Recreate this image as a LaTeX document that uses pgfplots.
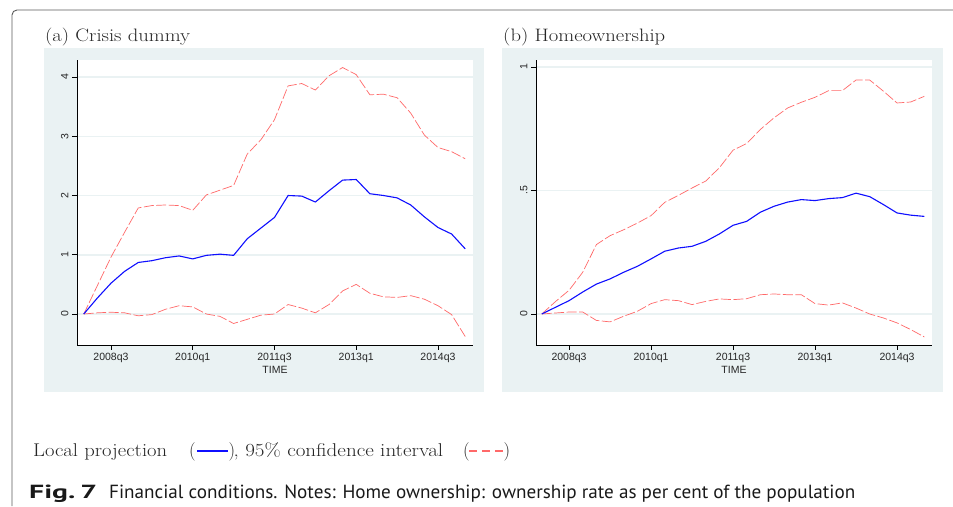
\documentclass[border=0pt]{standalone}
\usepackage{pgfplots}
\pgfplotsset{compat=1.18}
\usepackage{pgfplotstable}
\usepackage{fontspec}
\usepackage{graphicx}
\newfontfamily\arial{Liberation Sans}
\newfontfamily\ptsans{PT Sans}
\definecolor{bg}{RGB}{234,242,243}
\definecolor{lpblue}{RGB}{15,15,255}
\definecolor{cired}{RGB}{255,105,105}
\definecolor{frame}{RGB}{90,90,90}

% i = quarter index (0 = 2008q1), b = local projection, u = upper CI, l = lower CI
\pgfplotstableread{
i b u l
0 0 0 0
1 0.27 0.48 0.02
2 0.52 0.96 0.03
3 0.72 1.38 0.02
4 0.87 1.79 -0.03
5 0.90 1.83 -0.01
6 0.95 1.84 0.08
7 0.98 1.83 0.14
8 0.93 1.75 0.12
9 0.99 2.01 0.00
10 1.01 2.09 -0.04
11 0.99 2.17 -0.16
12 1.27 2.70 -0.09
13 1.45 2.94 -0.02
14 1.63 3.28 0.00
15 2.00 3.85 0.16
16 1.99 3.89 0.10
17 1.89 3.78 0.02
18 2.08 4.02 0.16
19 2.26 4.16 0.39
20 2.27 4.04 0.50
21 2.03 3.70 0.35
22 2.00 3.71 0.29
23 1.96 3.65 0.28
24 1.84 3.39 0.31
25 1.64 3.02 0.25
26 1.46 2.81 0.14
27 1.35 2.74 -0.01
28 1.10 2.62 -0.38
}\tA

\pgfplotstableread{
i b u l
0 0 0 0
1 0.027 0.050 0.004
2 0.054 0.096 0.008
3 0.089 0.169 0.008
4 0.121 0.281 -0.026
5 0.142 0.317 -0.032
6 0.169 0.341 -0.009
7 0.193 0.368 0.011
8 0.223 0.398 0.042
9 0.254 0.452 0.058
10 0.267 0.480 0.054
11 0.274 0.510 0.038
12 0.294 0.538 0.051
13 0.324 0.592 0.061
14 0.359 0.663 0.058
15 0.375 0.690 0.062
16 0.412 0.747 0.078
17 0.436 0.794 0.081
18 0.453 0.834 0.078
19 0.463 0.857 0.078
20 0.459 0.877 0.042
21 0.467 0.904 0.036
22 0.471 0.904 0.045
23 0.489 0.947 0.024
24 0.475 0.947 0.000
25 0.443 0.902 -0.016
26 0.409 0.854 -0.036
27 0.400 0.858 -0.063
28 0.395 0.881 -0.093
}\tB

\pgfplotsset{stata/.style={
  scale only axis, width=396pt, height=285pt,
  anchor=south west,
  axis background/.style={fill=white},
  axis x line*=bottom, axis y line*=left,
  axis line style={black, line width=0.8pt, -},
  tick align=outside, major tick length=5pt,
  tick style={black, line width=0.8pt},
  ymajorgrids, grid style={bg, line width=1.5pt},
  xtick={2,8,14,20,26},
  xticklabels={2008q3,2010q1,2011q3,2013q1,2014q3},
  ticklabel style={font=\arial\fontsize{10.5}{12}\selectfont, text=black!85},
  yticklabel style={rotate=90, anchor=south},
  xlabel={TIME},
  xlabel style={font=\arial\fontsize{10.5}{12}\selectfont, text=black!85, yshift=4pt},
  every axis plot/.append style={line join=round},
}}

\begin{document}
\begin{tikzpicture}[x=1pt,y=1pt]
\useasboundingbox (0,0) rectangle (953,506);
% frame
\draw[frame, line width=0.9pt, rounded corners=5pt] (12,0) -- (12,496) -- (953,496);
% panel backgrounds
\fill[bg] (44,114) rectangle (484,458);
\fill[bg] (502,114) rectangle (943,458);
% titles
\node[anchor=base west, inner sep=0, text=black!85] at (45,464) {\resizebox{145pt}{\height}{\fontsize{18}{20}\selectfont (a) Crisis dummy}};
\node[anchor=base west, inner sep=0, text=black!85] at (503,464) {\resizebox{162pt}{\height}{\fontsize{18}{20}\selectfont (b) Homeownership}};

\begin{axis}[stata, at={(77pt,161pt)},
  xmin=-0.495, xmax=28.57, ymin=-0.523, ymax=4.287,
  ytick={0,1,2,3,4}, yticklabels={0,1,2,3,4}]
\addplot[cired, line width=0.7pt, dash pattern=on 10pt off 2.5pt] table[x=i,y=u]{\tA};
\addplot[cired, line width=0.7pt, dash pattern=on 10pt off 2.5pt] table[x=i,y=l]{\tA};
\addplot[lpblue, line width=1.1pt] table[x=i,y=b]{\tA};
\end{axis}

\begin{axis}[stata, at={(536pt,161pt)},
  xmin=-0.42, xmax=28.56, ymin=-0.1255, ymax=1.028,
  ytick={0,0.5,1}, yticklabels={0,.5,1}]
\addplot[cired, line width=0.7pt, dash pattern=on 10pt off 2.5pt] table[x=i,y=u]{\tB};
\addplot[cired, line width=0.7pt, dash pattern=on 10pt off 2.5pt] table[x=i,y=l]{\tB};
\addplot[lpblue, line width=1.1pt] table[x=i,y=b]{\tB};
\end{axis}

% legend line
\node[anchor=base west, inner sep=0, text=black!85] at (33,49.3) {\resizebox{134pt}{\height}{\fontsize{18.5}{20}\selectfont Local projection}};
\node[anchor=base west, inner sep=0, text=black!85] at (189,49.3) {\fontsize{18.5}{20}\selectfont (};
\draw[lpblue, line width=1.8pt] (197,55) -- (228,55);
\node[anchor=base west, inner sep=0, text=black!85] at (228.5,49.3) {\fontsize{18.5}{20}\selectfont )};
\node[anchor=base west, inner sep=0, text=black!85] at (233.5,49.3) {\resizebox{209.5pt}{\height}{\fontsize{18.5}{20}\selectfont , 95\% confidence interval}};
\node[anchor=base west, inner sep=0, text=black!85] at (463,49.3) {\fontsize{18.5}{20}\selectfont (};
\draw[cired, line width=1.2pt] (469,55) -- (477,55);
\draw[cired, line width=1.2pt] (482,55) -- (490,55);
\draw[cired, line width=1.2pt] (495,55) -- (503,55);
\node[anchor=base west, inner sep=0, text=black!85] at (503.5,49.3) {\fontsize{18.5}{20}\selectfont )};

% caption
\node[anchor=base west, inner sep=0, text=black!90] at (29,7.3) {\resizebox{68pt}{\height}{\ptsans\bfseries\fontsize{19}{22}\selectfont Fig.\,7}};
\node[anchor=base west, inner sep=0, text=black!90] at (109,7.3) {\resizebox{746pt}{\height}{\ptsans\fontsize{19}{22}\selectfont Financial conditions. Notes: Home ownership: ownership rate as per cent of the population}};
\end{tikzpicture}
\end{document}
